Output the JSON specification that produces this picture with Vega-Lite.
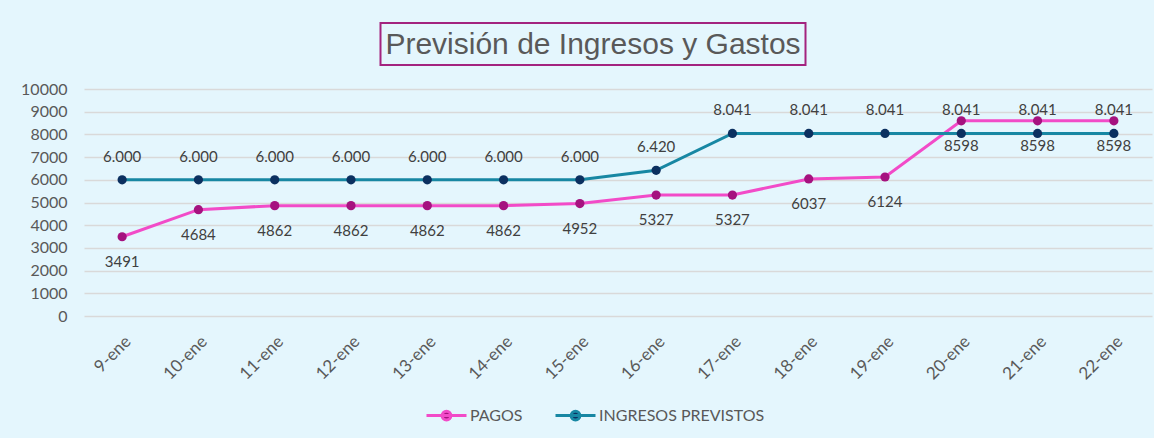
{
  "$schema": "https://vega.github.io/schema/vega-lite/v6.json",
  "background": "#E4F6FD",
  "padding": {"left": 20, "top": 22, "right": 2, "bottom": 12},
  "config": {
    "locale": {"number": {"decimal": ",", "thousands": ".", "grouping": [3], "currency": ["", " €"]}},
    "view": {"stroke": null},
    "font": "Lato"
  },
  "datasets": {
    "serie": [
      {"fecha": "9-ene", "serie": "PAGOS", "valor": 3491},
      {"fecha": "10-ene", "serie": "PAGOS", "valor": 4684},
      {"fecha": "11-ene", "serie": "PAGOS", "valor": 4862},
      {"fecha": "12-ene", "serie": "PAGOS", "valor": 4862},
      {"fecha": "13-ene", "serie": "PAGOS", "valor": 4862},
      {"fecha": "14-ene", "serie": "PAGOS", "valor": 4862},
      {"fecha": "15-ene", "serie": "PAGOS", "valor": 4952},
      {"fecha": "16-ene", "serie": "PAGOS", "valor": 5327},
      {"fecha": "17-ene", "serie": "PAGOS", "valor": 5327},
      {"fecha": "18-ene", "serie": "PAGOS", "valor": 6037},
      {"fecha": "19-ene", "serie": "PAGOS", "valor": 6124},
      {"fecha": "20-ene", "serie": "PAGOS", "valor": 8598},
      {"fecha": "21-ene", "serie": "PAGOS", "valor": 8598},
      {"fecha": "22-ene", "serie": "PAGOS", "valor": 8598},
      {"fecha": "9-ene", "serie": "INGRESOS PREVISTOS", "valor": 6000},
      {"fecha": "10-ene", "serie": "INGRESOS PREVISTOS", "valor": 6000},
      {"fecha": "11-ene", "serie": "INGRESOS PREVISTOS", "valor": 6000},
      {"fecha": "12-ene", "serie": "INGRESOS PREVISTOS", "valor": 6000},
      {"fecha": "13-ene", "serie": "INGRESOS PREVISTOS", "valor": 6000},
      {"fecha": "14-ene", "serie": "INGRESOS PREVISTOS", "valor": 6000},
      {"fecha": "15-ene", "serie": "INGRESOS PREVISTOS", "valor": 6000},
      {"fecha": "16-ene", "serie": "INGRESOS PREVISTOS", "valor": 6420},
      {"fecha": "17-ene", "serie": "INGRESOS PREVISTOS", "valor": 8041},
      {"fecha": "18-ene", "serie": "INGRESOS PREVISTOS", "valor": 8041},
      {"fecha": "19-ene", "serie": "INGRESOS PREVISTOS", "valor": 8041},
      {"fecha": "20-ene", "serie": "INGRESOS PREVISTOS", "valor": 8041},
      {"fecha": "21-ene", "serie": "INGRESOS PREVISTOS", "valor": 8041},
      {"fecha": "22-ene", "serie": "INGRESOS PREVISTOS", "valor": 8041}
    ]
  },
  "vconcat": [
    {
      "hconcat": [
        {
          "width": 425,
          "height": 42,
          "view": {"stroke": "#A3237F", "strokeWidth": 2},
          "data": {"values": [{"titulo": "Previsión de Ingresos y Gastos"}]},
          "mark": {"type": "text", "font": "Liberation Sans", "fontSize": 30, "color": "#595959", "align": "center", "baseline": "middle", "dy": 1},
          "encoding": {"text": {"field": "titulo", "type": "nominal"}}
        },
        {
          "width": 49,
          "height": 42,
          "data": {"values": [{"vacio": ""}]},
          "mark": {"type": "text"},
          "encoding": {"text": {"field": "vacio", "type": "nominal"}}
        }
      ],
      "spacing": 0
    },
    {
      "width": 1068,
      "height": 227,
      "data": {"name": "serie"},
      "encoding": {
        "x": {
          "field": "fecha", "type": "ordinal", "sort": null, "title": null,
          "axis": {"labelAngle": -45, "labelFontSize": 17, "labelColor": "#595959", "domain": false, "ticks": false, "labelPadding": 17, "grid": false}
        },
        "y": {
          "field": "valor", "type": "quantitative", "title": null,
          "scale": {"domain": [0, 10000], "nice": false},
          "axis": {"values": [0,1000,2000,3000,4000,5000,6000,7000,8000,9000,10000], "format": "d", "labelFontSize": 16, "labelColor": "#595959", "domain": false, "ticks": false, "labelPadding": 17, "gridColor": "#D9D9D9", "gridWidth": 1.5}
        }
      },
      "layer": [
        {
          "mark": {"type": "line", "strokeWidth": 3},
          "encoding": {
            "color": {
              "field": "serie", "type": "nominal",
              "scale": {"domain": ["PAGOS", "INGRESOS PREVISTOS"], "range": ["#F24BC8", "#1787A3"]},
              "legend": {
                "title": null, "orient": "none", "direction": "horizontal", "legendX": 341, "legendY": 371,
                "labelFontSize": 16, "labelColor": "#595959", "labelFont": "Lato", "labelLimit": 400,
                "symbolType": "M -1 0 L 1 0 M 0.22 0 A 0.22 0.22 0 1 1 -0.22 0 A 0.22 0.22 0 1 1 0.22 0",
                "symbolSize": 1600, "symbolStrokeWidth": 3, "columnPadding": 26, "labelOffset": 2
              }
            }
          }
        },
        {
          "mark": {"type": "point", "filled": true, "size": 85, "opacity": 1},
          "encoding": {
            "fill": {
              "field": "serie", "type": "nominal",
              "scale": {"domain": ["PAGOS", "INGRESOS PREVISTOS"], "range": ["#A5127F", "#0B3060"]},
              "legend": null
            }
          }
        },
        {
          "transform": [{"filter": "datum.serie === 'INGRESOS PREVISTOS'"}],
          "mark": {"type": "text", "fontSize": 15, "color": "#404040", "dy": -23, "baseline": "middle"},
          "encoding": {"text": {"field": "valor", "type": "quantitative", "format": ",d"}}
        },
        {
          "transform": [{"filter": "datum.serie === 'PAGOS'"}],
          "mark": {"type": "text", "fontSize": 15, "color": "#404040", "dy": 25, "baseline": "middle"},
          "encoding": {"text": {"field": "valor", "type": "quantitative", "format": "d"}}
        }
      ]
    }
  ],
  "spacing": 15,
  "center": true,
  "bounds": "full"
}
